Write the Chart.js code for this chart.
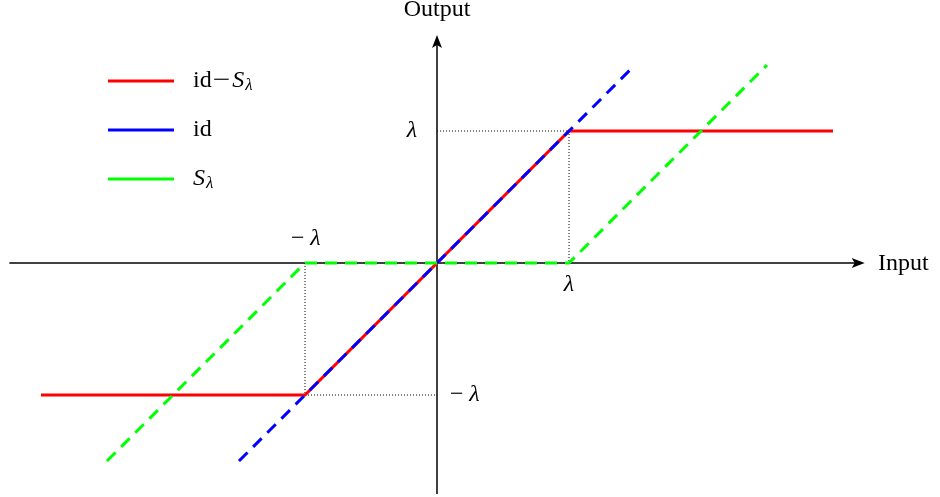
<!DOCTYPE html>
<html>
<head>
<meta charset="utf-8">
<script src="https://cdn.jsdelivr.net/npm/chart.js@4/dist/chart.umd.min.js"></script>
<style>
  body { margin: 0; background: #fff; }
  #wrap { width: 940px; height: 497px; position: relative; }
</style>
</head>
<body>
<div id="wrap"><canvas id="chart"></canvas></div>
<script>
// series values (in units of lambda)
var redX = [-3, -1, 1, 3];
var redY = [-1, -1, 1, 1];
var blueX = [-1.5, 1.5];
var blueY = [-1.5, 1.5];
var greenX = [-2.5, -1, 1, 2.5];
var greenY = [-1.5, 0, 0, 1.5];
// dotted guides
var guideAX = [0, 1, 1];
var guideAY = [1, 1, 0];
var guideBX = [-1, -1, 0];
var guideBY = [0, -1, -1];
// axes extents
var xAxisX = [-3.24, 3.2];
var yAxisY = [-1.75, 1.69];
var legendLabels = ['id\u2212S\u03bb', 'id', 'S\u03bb'];

function pts(xs, ys) {
  var out = [];
  for (var i = 0; i < xs.length; i++) out.push({ x: xs[i], y: ys[i] });
  return out;
}

var serif = '"Liberation Serif", "DejaVu Serif", serif';

var overlay = {
  id: 'overlay',
  afterDatasetsDraw: function (chart) {
    var ctx = chart.ctx;
    var xs = chart.scales.x, ys = chart.scales.y;
    var x0 = xs.getPixelForValue(0), y0 = ys.getPixelForValue(0);
    ctx.save();
    ctx.fillStyle = '#000';
    // arrow heads
    var tipX = xs.getPixelForValue(3.24);
    ctx.beginPath();
    ctx.moveTo(tipX, y0);
    ctx.lineTo(tipX - 13, y0 - 5);
    ctx.lineTo(tipX - 10, y0);
    ctx.lineTo(tipX - 13, y0 + 5);
    ctx.closePath();
    ctx.fill();
    var tipY = ys.getPixelForValue(1.727);
    ctx.beginPath();
    ctx.moveTo(x0, tipY);
    ctx.lineTo(x0 - 5, tipY + 13);
    ctx.lineTo(x0, tipY + 10);
    ctx.lineTo(x0 + 5, tipY + 13);
    ctx.closePath();
    ctx.fill();

    // axis titles
    ctx.font = '24px ' + serif;
    ctx.textBaseline = 'middle';
    ctx.textAlign = 'center';
    ctx.fillText('Output', x0, 10);
    ctx.textAlign = 'left';
    ctx.fillText('Input', 878, y0 + 1);

    // tick labels
    function lam(txt, px, py) {
      ctx.font = 'italic 24px ' + serif;
      ctx.textAlign = 'center';
      ctx.fillText(txt, px, py);
    }
    lam('\u03bb', x0 - 25, ys.getPixelForValue(1));
    lam('\u2212\u2009\u03bb', x0 + 27, ys.getPixelForValue(-1));
    lam('\u03bb', xs.getPixelForValue(1), y0 + 22);
    lam('\u2212\u2009\u03bb', xs.getPixelForValue(-1), y0 - 24);

    // legend
    var colors = ['#ff0000', '#0000ff', '#00ff00'];
    var ly = [81, 130, 179];
    for (var i = 0; i < legendLabels.length; i++) {
      ctx.strokeStyle = colors[i];
      ctx.lineWidth = 3;
      ctx.beginPath();
      ctx.moveTo(108, ly[i]);
      ctx.lineTo(174, ly[i]);
      ctx.stroke();
      var tx = 193;
      var lab = legendLabels[i];
      ctx.textAlign = 'left';
      for (var k = 0; k < lab.length; k++) {
        var ch = lab[k];
        if (ch === 'S') {
          ctx.font = 'italic 24px ' + serif;
          ctx.fillText(ch, tx, ly[i]);
          tx += ctx.measureText(ch).width + 1;
        } else if (ch === '\u03bb') {
          ctx.font = 'italic 17px ' + serif;
          ctx.fillText(ch, tx, ly[i] + 5);
          tx += ctx.measureText(ch).width;
        } else if (ch === '\u2212') {
          ctx.font = '24px ' + serif;
          ctx.save();
          ctx.translate(tx + 1, 0);
          ctx.scale(1.3, 1);
          ctx.fillText(ch, 0, ly[i]);
          ctx.restore();
          tx += ctx.measureText(ch).width * 1.3 + 3;
        } else {
          ctx.font = '24px ' + serif;
          ctx.fillText(ch, tx, ly[i]);
          tx += ctx.measureText(ch).width;
        }
      }
    }
    ctx.restore();
  }
};

var base = { showLine: true, pointRadius: 0, fill: false, tension: 0 };

new Chart(document.getElementById('chart'), {
  type: 'scatter',
  data: {
    datasets: [
      Object.assign({}, base, { label: 'x axis', data: [{ x: xAxisX[0], y: 0 }, { x: xAxisX[1], y: 0 }], borderColor: '#000', borderWidth: 1.5, order: 10 }),
      Object.assign({}, base, { label: 'y axis', data: [{ x: 0, y: yAxisY[0] }, { x: 0, y: yAxisY[1] }], borderColor: '#000', borderWidth: 1.5, order: 10 }),
      Object.assign({}, base, { label: 'guide a', data: pts(guideAX, guideAY), borderColor: '#000', borderWidth: 1, borderDash: [1, 2], order: 9 }),
      Object.assign({}, base, { label: 'guide b', data: pts(guideBX, guideBY), borderColor: '#000', borderWidth: 1, borderDash: [1, 2], order: 9 }),
      Object.assign({}, base, { label: legendLabels[0], data: pts(redX, redY), borderColor: '#ff0000', borderWidth: 3, order: 3 }),
      Object.assign({}, base, { label: legendLabels[1], data: pts(blueX, blueY), borderColor: '#0000ff', borderWidth: 3, borderDash: [12, 8], order: 2 }),
      Object.assign({}, base, { label: legendLabels[2], data: pts(greenX, greenY), borderColor: '#00ff00', borderWidth: 3, borderDash: [12, 8], order: 1 })
    ]
  },
  options: {
    responsive: true,
    maintainAspectRatio: false,
    animation: false,
    layout: { padding: 0 },
    plugins: { legend: { display: false }, tooltip: { enabled: false } },
    scales: {
      x: { type: 'linear', display: false, min: -437 / 132, max: 503 / 132 },
      y: { type: 'linear', display: false, min: -234 / 132, max: 263 / 132 }
    }
  },
  plugins: [overlay]
});
</script>
</body>
</html>
